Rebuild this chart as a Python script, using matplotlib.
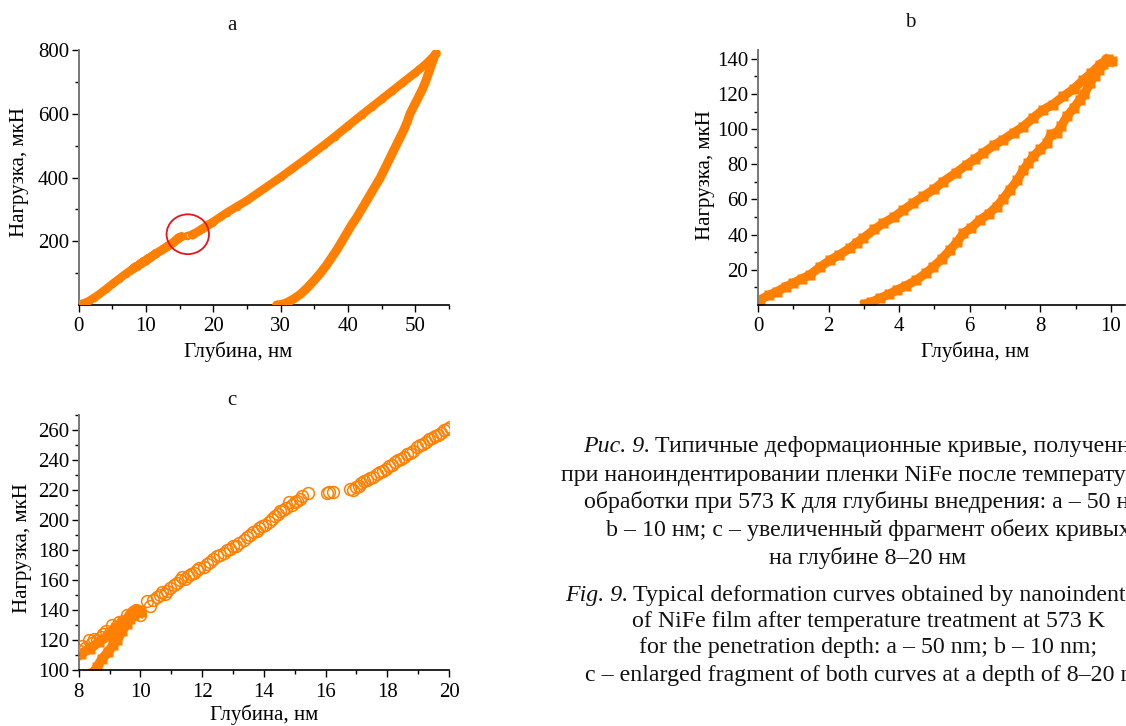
import numpy as np
import matplotlib.pyplot as plt
from matplotlib.patches import Ellipse
from matplotlib.ticker import MultipleLocator

plt.rcParams['font.family'] = ['Liberation Serif', 'DejaVu Serif']
plt.rcParams['font.size'] = 15
plt.rcParams['text.color'] = '#111111'

orange = '#ff8000'

# curve a (50 nm) - loading branch, depth nm / load uN
a_load_depth = [0.3, 0.8, 1.5, 2.2, 3.0, 4.0, 5.0, 6.0, 7.0, 7.6,
                8.05, 8.12, 8.2, 8.33, 8.42, 8.5, 8.6, 8.71, 8.8, 8.9, 9.0, 9.09, 9.2, 9.3, 9.42,
                9.56, 9.65, 9.75, 9.85, 9.99, 10.2, 10.3, 10.42, 10.53, 10.62, 10.7, 10.78, 10.86,
                10.95, 11.08, 11.2, 11.28, 11.35, 11.45, 11.55, 11.65, 11.73, 11.82, 11.9, 12.05,
                12.16, 12.25, 12.35, 12.48, 12.58, 12.7, 12.8, 12.91, 13.0, 13.1, 13.2, 13.34,
                13.45, 13.55, 13.65, 13.77, 13.85, 13.95, 14.05, 14.15, 14.25, 14.35, 14.45, 14.52,
                14.62, 14.72, 14.8, 14.9, 15.0, 15.08, 15.17, 15.25, 15.44, 16.04, 16.12, 16.24,
                16.78, 16.88, 16.98, 17.08, 17.15, 17.25, 17.34, 17.45, 17.55, 17.66, 17.75, 17.85,
                17.95, 18.05, 18.15, 18.25, 18.35, 18.45, 18.55, 18.64, 18.72, 18.82, 18.96, 19.05,
                19.15, 19.25, 19.35, 19.45, 19.55, 19.65, 19.75, 19.85, 19.93, 20.02,
                21.0, 22.0, 23.5, 25.0, 26.5, 28.0, 30.0, 32.0, 33.5, 35.0, 36.5, 38.0, 40.0,
                42.0, 43.5, 45.0, 46.5, 48.0, 50.0, 51.5, 52.5, 53.0]
a_load_force = [3, 6, 12, 22, 33, 49, 66, 82, 98, 107,
                113, 116, 115, 120, 118, 121, 120, 122, 124, 126, 125, 130, 129, 132, 133,
                137, 136, 139, 140, 137, 146, 143, 147, 149, 150, 152, 151, 153,
                155, 157, 158, 160, 162, 161, 163, 164, 165, 167, 168, 169,
                171, 172, 174, 176, 177, 178, 180, 181, 183, 183, 185, 187,
                189, 190, 192, 193, 195, 196, 197, 199, 201, 203, 204, 206,
                207, 208, 212, 210, 212, 213, 214, 216, 218, 218, 218.5, 219,
                221, 220, 222, 223, 225, 226, 227, 228, 229, 231, 232, 233,
                234, 236, 237, 239, 240, 241, 242, 244, 245, 246, 249, 250,
                251, 252, 254, 255, 256, 257, 258, 260, 261, 262,
                276, 290, 309, 328, 350, 372, 401, 432, 455, 479, 503, 528, 562,
                596, 621, 646, 671, 696, 729, 755, 776, 786]

# curve a - unloading branch
a_unload_depth = [53.1, 52.9, 52.5, 52.0, 51.5, 51.0, 50.4, 49.8, 49.2, 48.8, 48.3, 47.6,
                  46.9, 46.2, 45.5, 44.8, 44.1, 43.4, 42.7, 42.0, 41.3, 40.5, 39.8, 39.1,
                  38.4, 37.6, 36.8, 35.9, 35.0, 34.0, 33.0, 32.0, 31.0, 30.2, 29.4]
a_unload_force = [790, 785, 760, 730, 700, 675, 650, 625, 600, 575, 550, 520,
                  490, 460, 430, 400, 375, 350, 325, 300, 275, 250, 225, 200,
                  175, 150, 125, 100, 78, 55, 35, 20, 8, 2, 0]

# curve b (10 nm)
b_load_depth = [0.0, 0.06, 0.3, 0.53, 0.8, 1.0, 1.25, 1.47, 1.75, 2.05, 2.3, 2.6, 2.8, 2.98,
                3.3, 3.55, 3.85, 4.12, 4.4, 4.68, 5.0, 5.25, 5.6, 5.91, 6.15, 6.38, 6.7, 6.95,
                7.25, 7.52, 7.8, 8.08, 8.35, 8.65, 8.95, 9.22, 9.45, 9.69, 9.85, 9.93, 10.02]
b_load_force = [2.5, 3.0, 5.5, 7.6, 10.5, 12.5, 15.0, 17.1, 21.5, 25.6, 28.5, 32.3, 35.5, 38.0,
                43.0, 46.5, 50.0, 54.0, 58.0, 61.7, 66.0, 70.2, 75.0, 79.7, 83.0, 86.4, 91.0, 94.0,
                98.0, 101.5, 106.5, 111.0, 114.0, 118.6, 123.0, 128.0, 132.0, 136.7, 139.0, 139.8, 138.5]
b_unload_depth = [3.03, 3.2, 3.45, 3.7, 3.93, 4.2, 4.49, 4.75, 4.97, 5.2, 5.44, 5.65, 5.82,
                  6.05, 6.29, 6.55, 6.76, 6.95, 7.14, 7.35, 7.52, 7.65, 7.8, 8.0, 8.18, 8.3,
                  8.46, 8.6, 8.75, 8.95, 9.12, 9.25, 9.41, 9.55, 9.65, 9.78, 9.88]
b_unload_force = [0.5, 1.5, 3.8, 6.0, 8.5, 11.0, 14.2, 18.0, 21.8, 26.0, 31.3, 36.0, 40.8,
                  44.0, 48.4, 52.0, 56.0, 60.5, 65.5, 71.0, 76.9, 80.5, 84.5, 88.5, 92.0, 97.0,
                  97.8, 102.0, 107.2, 112.0, 116.7, 120.0, 126.2, 130.5, 133.8, 137.0, 139.5]

xlabel = 'Глубина, нм'
ylabel = 'Нагрузка, мкН'

caption_ru = ['при наноиндентировании пленки NiFe после температурной',
              'обработки при 573 К для глубины внедрения: a – 50 нм;',
              'b – 10 нм; c – увеличенный фрагмент обеих кривых',
              'на глубине 8–20 нм']
caption_en = ['of NiFe film after temperature treatment at 573 K',
              'for the penetration depth: a – 50 nm; b – 10 nm;',
              'c – enlarged fragment of both curves at a depth of 8–20 nm']


def style(ax, xmaj, xmin, ymaj, ymin):
    ax.spines['top'].set_visible(False)
    ax.spines['right'].set_visible(False)
    ax.spines['left'].set_color('#777777')
    ax.spines['left'].set_linewidth(1.4)
    ax.spines['bottom'].set_linewidth(1.2)
    ax.xaxis.set_major_locator(MultipleLocator(xmaj))
    ax.xaxis.set_minor_locator(MultipleLocator(xmin))
    ax.set_yticks(ymaj)
    ax.set_yticks(ymin, minor=True)
    ax.tick_params(which='major', direction='out', length=5, width=1, labelsize=15)
    ax.tick_params(axis='x', which='major', pad=4)
    ax.tick_params(axis='y', which='major', pad=2)
    ax.tick_params(which='minor', direction='out', length=3, width=1)


def gap_mask(x, y, lo, hi):
    x = np.asarray(x, float)
    y = np.asarray(y, float)
    return x, np.where((x > lo) & (x < hi), np.nan, y)


fig = plt.figure(figsize=(11.26, 7.26), dpi=100)

# panel a
ax1 = fig.add_axes([0.0699, 0.5799, 0.3289, 0.3512])
ax1.plot(a_load_depth, a_load_force, 'o', ms=4.5, mfc='none', mec=orange, mew=1, zorder=2)
xl, yl = gap_mask(a_load_depth, a_load_force, 15.3, 16.5)
ax1.plot(xl, yl, '-', color=orange, lw=6, solid_capstyle='round', zorder=3)
ax1.plot(a_unload_depth, a_unload_force, '-', color=orange, lw=6.5,
         solid_capstyle='round', zorder=3)
ax1.add_patch(Ellipse((16.2, 222), 6.3, 125, fill=False, ec='#e8141c', lw=1.3, zorder=4))
ax1.set_xlim(0, 55)
ax1.set_ylim(0, 800)
style(ax1, 10, 5, [200, 400, 600, 800], [100, 300, 500, 700])

# panel b
ax2 = fig.add_axes([0.6732, 0.5799, 0.3259, 0.3512])
for xs, ys in [(b_load_depth, b_load_force), (b_unload_depth, b_unload_force)]:
    ax2.plot(xs, ys, '-', color=orange, lw=6.5, zorder=2)
    ax2.plot(xs, ys, 's', ms=6.5, color=orange, mec='none', zorder=2)
ax2.set_xlim(0, 10.4)
ax2.set_ylim(0, 145)
style(ax2, 2, 1, [20, 40, 60, 80, 100, 120, 140], np.arange(10, 145, 20))

# panel c - both curves, 8-20 nm
ax3 = fig.add_axes([0.0699, 0.0771, 0.3289, 0.3512])
for xs, ys in [(b_load_depth, b_load_force), (b_unload_depth, b_unload_force)]:
    ax3.plot(xs, ys, '-', color=orange, lw=7, zorder=2)
    ax3.plot(xs, ys, 's', ms=7, color=orange, mec='none', zorder=2)
ax3.plot(a_load_depth, a_load_force, 'o', ms=8.5, mfc='none', mec=orange, mew=1.1, zorder=3)
ax3.set_xlim(8, 20)
ax3.set_ylim(100, 270)
style(ax3, 2, 1, np.arange(100, 261, 20), np.arange(110, 271, 20))

for ax, letter, ty, lx, ly, yx, yy in [(ax1, 'a', 1.098, 0.43, -0.184, -0.161, 0.52),
                                       (ax2, 'b', 1.106, 0.591, -0.184, -0.144, 0.51),
                                       (ax3, 'c', 1.059, 0.5, -0.176, -0.151, 0.478)]:
    ax.text(0.414, ty, letter, transform=ax.transAxes, ha='center', va='center', fontsize=15)
    ax.set_xlabel(xlabel, fontsize=15)
    ax.set_ylabel(ylabel, fontsize=15)
    ax.xaxis.set_label_coords(lx, ly)
    ax.yaxis.set_label_coords(yx, yy)
    ax.xaxis.label.set_va('center')
    ax.yaxis.label.set_va('center')

# caption, centred at x = 868 px; long lines run past the right edge
W, H = 1126.0, 726.0
cx = 868 / W
fs = 17.2
fig.text(650 / W, 1 - 447 / H, 'Рис. 9.', style='italic', ha='right', va='center', fontsize=fs)
fig.text(655 / W, 1 - 447 / H, 'Типичные деформационные кривые, полученные',
         ha='left', va='center', fontsize=fs)
for line, y in zip(caption_ru, [475, 502, 530, 558]):
    fig.text(cx, 1 - y / H, line, ha='center', va='center', fontsize=fs)
fig.text(628 / W, 1 - 595 / H, 'Fig. 9.', style='italic', ha='right', va='center', fontsize=fs)
fig.text(633 / W, 1 - 595 / H, 'Typical deformation curves obtained by nanoindentation',
         ha='left', va='center', fontsize=fs)
for line, y in zip(caption_en, [622, 647, 675]):
    fig.text(cx, 1 - y / H, line, ha='center', va='center', fontsize=fs)

fig.savefig('out.png', dpi=100)
